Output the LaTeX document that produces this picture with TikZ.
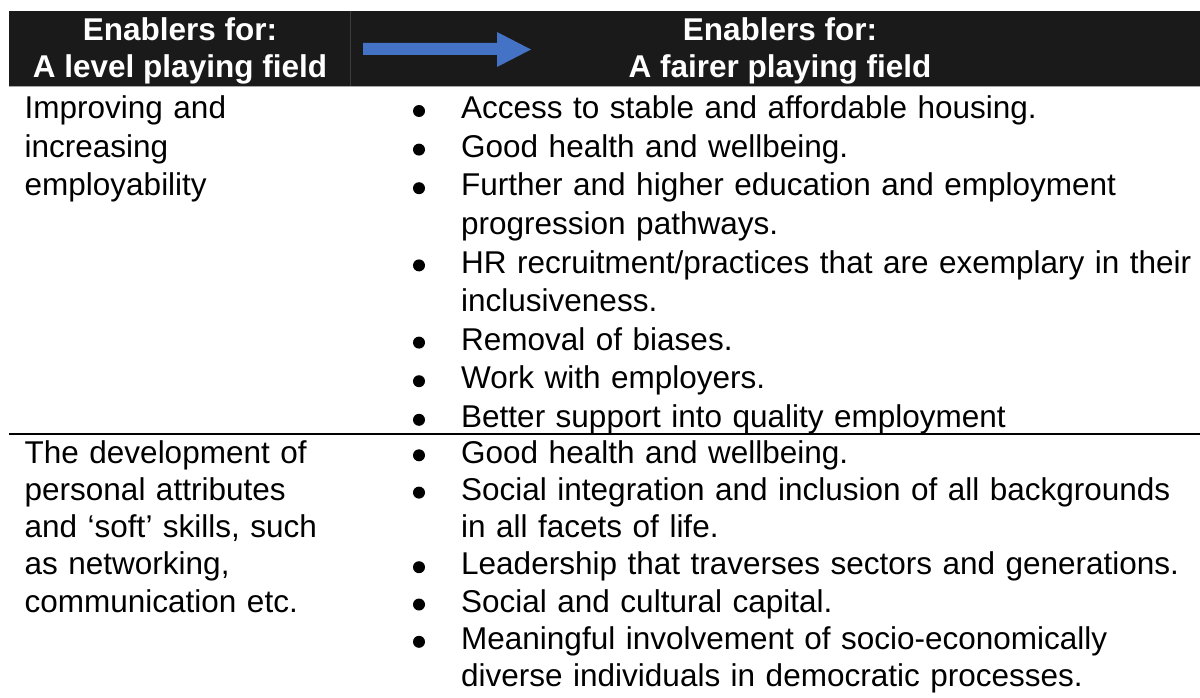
\documentclass[tikz,border=0pt]{standalone}
\usepackage{fontspec}
\setmainfont{Liberation Sans}
\definecolor{band}{HTML}{1A1A1A}
\definecolor{bandsep}{HTML}{3C3C3C}
\definecolor{arrowblue}{HTML}{4472C4}
\tikzset{
  hdr/.style={font=\fontsize{31.5}{37}\selectfont\bfseries, text=white, anchor=base, inner sep=0pt},
  bodyA/.style={font=\fontsize{31.5}{38.6}\selectfont, anchor=base west, inner sep=0pt, text width=760pt, align=left},
  bodyB/.style={font=\fontsize{31.5}{37.3}\selectfont, anchor=base west, inner sep=0pt, text width=760pt, align=left},
  leftA/.style={bodyA, text width=320pt},
  leftB/.style={bodyB, text width=320pt},
  dot/.style={circle, fill=black, inner sep=0pt, minimum size=12pt},
}
\begin{document}
\begin{tikzpicture}[x=1pt,y=-1pt]
\useasboundingbox (0,0) rectangle (1200,698);
% header band
\fill[band] (9.3,11) rectangle (1212,86);
\draw[bandsep, line width=1pt] (350,11) -- (350,86);
\draw[gray!70, line width=1pt] (9.3,86.5) -- (1212,86.5);
% arrow
\fill[arrowblue] (363,43) -- (497,43) -- (497,32) -- (531,49.5) -- (497,67) -- (497,55) -- (363,55) -- cycle;
% header texts
\node[hdr] (h1a) at (180,41) {Enablers for:};
\node[hdr] (h1b) at (180,78) {A level playing field};
\node[hdr] (h2a) at (780,41) {Enablers for:};
\node[hdr] (h2b) at (780,78) {A fairer playing field};
% row separator
\draw[black, line width=1.5pt] (9.3,434) -- (1212,434);
% row 1 left
\node[leftA] (l1) at (24.5,118.7) {Improving and\\increasing\\employability};
% row 1 right
\node[bodyA] (r1) at (461,118.7) {Access to stable and affordable housing.};
\node[bodyA] (r2) at (461,157.3) {Good health and wellbeing.};
\node[bodyA] (r3) at (461,195.9) {Further and higher education and employment\\progression pathways.};
\node[bodyA] (r4) at (461,273.1) {HR recruitment/practices that are exemplary in their\\inclusiveness.};
\node[bodyA] (r5) at (461,350.3) {Removal of biases.};
\node[bodyA] (r6) at (461,388.9) {Work with employers.};
\node[bodyA] (r7) at (461,427.5) {Better support into quality employment};
\node[dot] (b1) at (419,111.0) {};
\node[dot] (b2) at (419,149.6) {};
\node[dot] (b3) at (419,188.2) {};
\node[dot] (b4) at (419,265.4) {};
\node[dot] (b5) at (419,342.6) {};
\node[dot] (b6) at (419,381.2) {};
\node[dot] (b7) at (419,419.8) {};
% row 2 left
\node[leftB] (l2) at (24.5,463) {The development of\\personal attributes\\and ‘soft’ skills, such\\as networking,\\communication etc.};
% row 2 right
\node[bodyB] (s1) at (461,463) {Good health and wellbeing.};
\node[bodyB] (s2) at (461,500.3) {Social integration and inclusion of all backgrounds\\in all facets of life.};
\node[bodyB] (s3) at (461,574.9) {Leadership that traverses sectors and generations.};
\node[bodyB] (s4) at (461,612.2) {Social and cultural capital.};
\node[bodyB] (s5) at (461,649.5) {Meaningful involvement of socio-economically\\diverse individuals in democratic processes.};
\node[dot] (c1) at (419,455.3) {};
\node[dot] (c2) at (419,492.6) {};
\node[dot] (c3) at (419,567.2) {};
\node[dot] (c4) at (419,604.5) {};
\node[dot] (c5) at (419,641.8) {};
\end{tikzpicture}
\end{document}
